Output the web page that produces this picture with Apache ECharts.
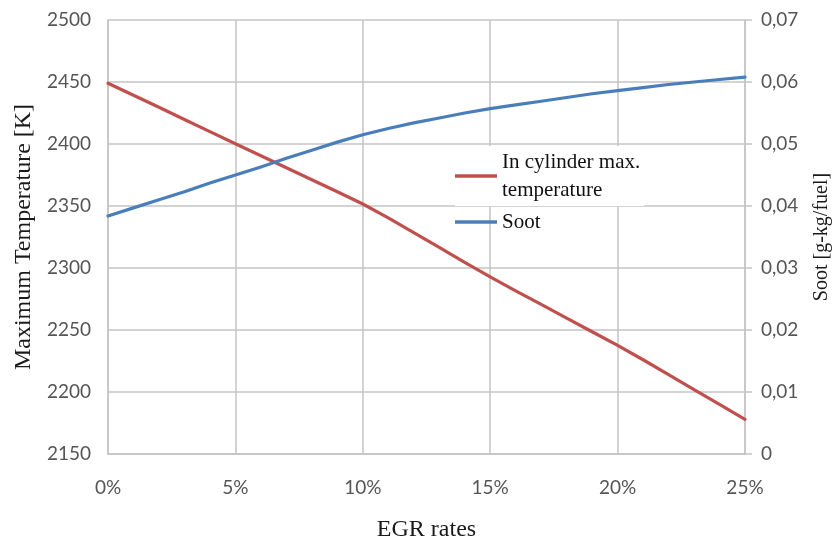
<!DOCTYPE html>
<html>
<head>
<meta charset="utf-8">
<title>EGR rates vs. temperature and soot</title>
<script src="https://cdn.jsdelivr.net/npm/echarts@6/dist/echarts.min.js"></script>
<style>
  html, body { margin: 0; padding: 0; background: #ffffff; }
  #chart { width: 840px; height: 548px; }
</style>
</head>
<body>
<div id="chart"></div>
<script>
// EGR rate in percent (x axis)
const egrRates = [0, 1, 2, 3, 4, 5, 6, 7, 8, 9, 10, 11, 12, 13, 14, 15, 16, 17, 18, 19, 20, 21, 22, 23, 24, 25];

// In-cylinder maximum temperature [K]
const maxTemperature = [2449, 2439.3, 2429.6, 2419.8, 2410, 2400.2, 2390.5, 2380.9, 2371.2, 2361.5, 2351.6,
  2340.4, 2328.6, 2316.6, 2304.6, 2292.8, 2281.6, 2270.6, 2259.6, 2248.6, 2237.6, 2226, 2214, 2202, 2190, 2178];

// Soot [g-kg/fuel]
const soot = [0.0384, 0.0397, 0.0410, 0.0423, 0.0437, 0.0450, 0.0463, 0.0477, 0.0490, 0.0503, 0.0515,
  0.0525, 0.0534, 0.0542, 0.0550, 0.0557, 0.0563, 0.0569, 0.0575, 0.0581, 0.0586, 0.0591, 0.0596, 0.0600, 0.0604, 0.0608];

// Axis tick settings
const xTicks = { min: 0, max: 25, interval: 5 };
const tempTicks = { min: 2150, max: 2500, interval: 50 };
const sootTicks = { min: 0, max: 0.07, interval: 0.01 };

const seriesNames = ['In cylinder max.\ntemperature', 'Soot'];

const gridColor = '#c4c4c4';
const tickFont = { fontFamily: 'Lato', fontSize: 19, color: '#555555' };
const titleFont = 'Liberation Serif';

const chart = echarts.init(document.getElementById('chart'), null, { renderer: 'canvas' });

chart.setOption({
  animation: false,
  backgroundColor: '#ffffff',
  grid: { left: 108, right: 94, top: 20, bottom: 94, containLabel: false },
  legend: [
    {
      data: [seriesNames[0]],
      left: 455, top: 146,
      orient: 'vertical',
      backgroundColor: '#ffffff',
      padding: [2, 4, 2, 0],
      icon: 'rect', itemWidth: 42, itemHeight: 3.5,
      textStyle: { fontFamily: titleFont, fontSize: 21, color: '#111', lineHeight: 28 }
    },
    {
      data: [seriesNames[1]],
      left: 455, top: 208,
      orient: 'vertical',
      padding: 0,
      icon: 'rect', itemWidth: 42, itemHeight: 3.5,
      textStyle: { fontFamily: titleFont, fontSize: 21, color: '#111', lineHeight: 28 }
    }
  ],
  xAxis: {
    type: 'value',
    min: xTicks.min, max: xTicks.max, interval: xTicks.interval,
    name: 'EGR rates',
    nameLocation: 'middle',
    nameGap: 64,
    nameTextStyle: { fontFamily: titleFont, fontSize: 24, color: '#1a1a1a' },
    axisLine: { show: true, lineStyle: { color: gridColor, width: 1.5 } },
    axisTick: { show: false },
    axisLabel: Object.assign({ margin: 24, formatter: v => v + '%' }, tickFont),
    splitLine: { show: true, lineStyle: { color: gridColor, width: 1.5 } }
  },
  yAxis: [
    {
      type: 'value',
      position: 'left',
      min: tempTicks.min, max: tempTicks.max, interval: tempTicks.interval,
      name: 'Maximum Temperature [K]',
      nameLocation: 'middle',
      nameRotate: 90,
      nameGap: 72,
      nameTextStyle: { fontFamily: titleFont, fontSize: 24, color: '#1a1a1a' },
      axisLine: { show: true, lineStyle: { color: gridColor, width: 1.5 } },
      axisTick: { show: false },
      axisLabel: Object.assign({ margin: 17, formatter: v => String(v) }, tickFont),
      splitLine: { show: true, lineStyle: { color: gridColor, width: 1.5 } }
    },
    {
      type: 'value',
      position: 'right',
      min: sootTicks.min, max: sootTicks.max, interval: sootTicks.interval,
      name: 'Soot [g-kg/fuel]',
      nameLocation: 'middle',
      nameRotate: 90,
      nameGap: 67,
      nameTextStyle: { fontFamily: titleFont, fontSize: 20, color: '#1a1a1a' },
      axisLine: { show: true, lineStyle: { color: gridColor, width: 1.5 } },
      axisTick: { show: true, inside: false, length: 7, lineStyle: { color: gridColor, width: 1.5 } },
      axisLabel: Object.assign({
        margin: 16,
        formatter: v => (v === 0 ? '0' : v.toFixed(2).replace('.', ','))
      }, tickFont),
      splitLine: { show: false }
    }
  ],
  series: [
    {
      name: seriesNames[0],
      type: 'line',
      yAxisIndex: 0,
      data: egrRates.map((x, i) => [x, maxTemperature[i]]),
      smooth: false,
      showSymbol: false,
      lineStyle: { color: '#c0504d', width: 3.2, join: 'round', cap: 'round' },
      itemStyle: { color: '#c0504d' },
      z: 3
    },
    {
      name: seriesNames[1],
      type: 'line',
      yAxisIndex: 1,
      data: egrRates.map((x, i) => [x, soot[i]]),
      smooth: false,
      showSymbol: false,
      lineStyle: { color: '#4a7ebb', width: 3.2, join: 'round', cap: 'round' },
      itemStyle: { color: '#4a7ebb' },
      z: 3
    }
  ]
});
</script>
</body>
</html>
